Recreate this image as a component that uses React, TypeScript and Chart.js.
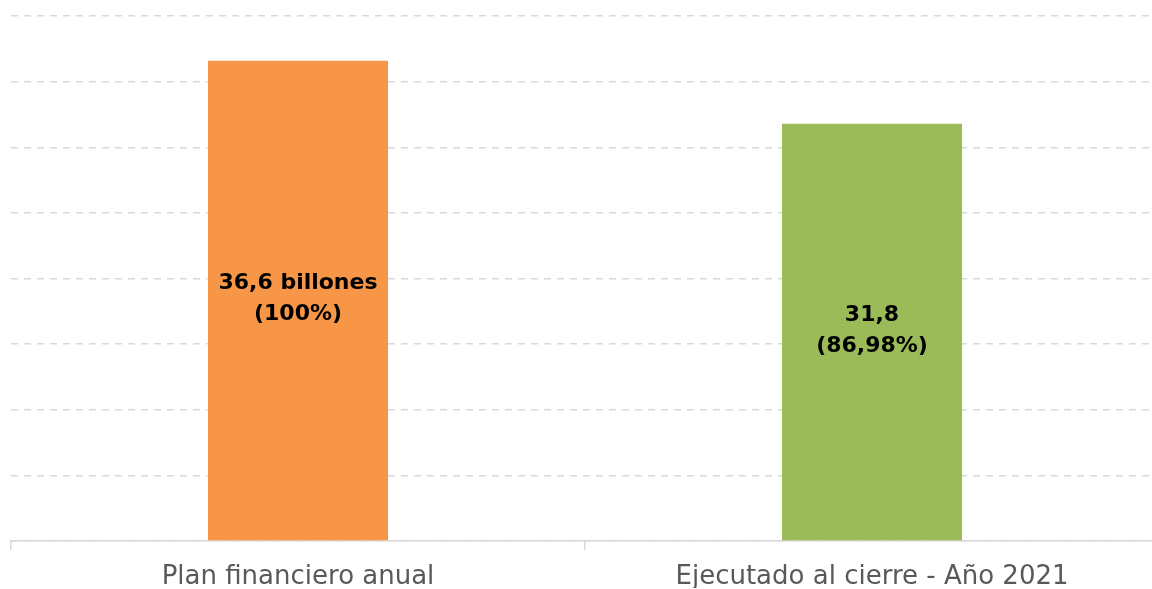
import React, { useEffect, useRef } from "react";
import { Chart, registerables } from "chart.js";

Chart.register(...registerables);

const categories = ["Plan financiero anual", "Ejecutado al cierre - Año 2021"];
const values = [36.6, 31.8];
const barColors = ["#F79646", "#9BBB59"];
const labelLine1 = ["36,6 billones", "31,8"];
const labelLine2 = ["(100%)", "(86,98%)"];
const yMin = 0;
const yMax = 40;
const yStep = 5;

const barLabelPlugin = {
  id: "barLabels",
  afterDatasetsDraw(chart: any) {
    const ctx = chart.ctx;
    const meta = chart.getDatasetMeta(0);
    ctx.save();
    ctx.fillStyle = "#000000";
    ctx.font = "bold 22px 'DejaVu Sans'";
    ctx.textAlign = "center";
    ctx.textBaseline = "middle";
    meta.data.forEach((el: any, i: number) => {
      const props = el.getProps(["x", "y", "base"], true);
      const cy = (props.y + props.base) / 2;
      ctx.fillText(labelLine1[i], props.x, cy - 17);
      ctx.fillText(labelLine2[i], props.x, cy + 14);
    });
    ctx.restore();
  },
};

export default function App() {
  const ref = useRef<HTMLCanvasElement | null>(null);
  useEffect(() => {
    document.body.style.margin = "0";
    document.body.style.overflow = "hidden";
    if (!ref.current) return;
    const chart = new Chart(ref.current, {
      type: "bar",
      data: {
        labels: categories,
        datasets: [
          {
            data: values,
            backgroundColor: barColors,
            borderWidth: 0,
            barPercentage: 0.3136,
            categoryPercentage: 1,
          },
        ],
      },
      options: {
        animation: false,
        responsive: false,
        maintainAspectRatio: false,
        layout: { padding: { left: 11, top: 16, right: 0, bottom: 1 } },
        plugins: {
          legend: { display: false },
          tooltip: { enabled: false },
          title: { display: false },
        },
        scales: {
          x: {
            offset: true,
            afterFit(scale: any) {
              scale.height = 47;
            },
            grid: {
              display: true,
              drawOnChartArea: false,
              drawTicks: true,
              tickLength: 9,
              color: "#d9d9d9",
              lineWidth: 1.5,
              offset: true,
            },
            border: { display: true, color: "#d9d9d9", width: 1.5 },
            ticks: {
              color: "#595959",
              padding: 14,
              maxRotation: 0,
              font: { family: "'DejaVu Sans'", size: 26, lineHeight: 1 },
            },
          },
          y: {
            min: yMin,
            max: yMax,
            afterFit(scale: any) {
              scale.width = 0;
            },
            ticks: { display: false, stepSize: yStep },
            border: { display: false, dash: [7, 6] },
            grid: {
              drawTicks: false,
              color: "#d9d9d9",
              lineWidth: 1.5,
            },
          },
        },
      },
      plugins: [barLabelPlugin],
    });
    return () => chart.destroy();
  }, []);
  return (
    <div style={{ width: 1152, height: 589, overflow: "hidden", background: "#fff" }}>
      <canvas ref={ref} width={1159} height={589} style={{ display: "block", width: 1159, height: 589 }} />
    </div>
  );
}
